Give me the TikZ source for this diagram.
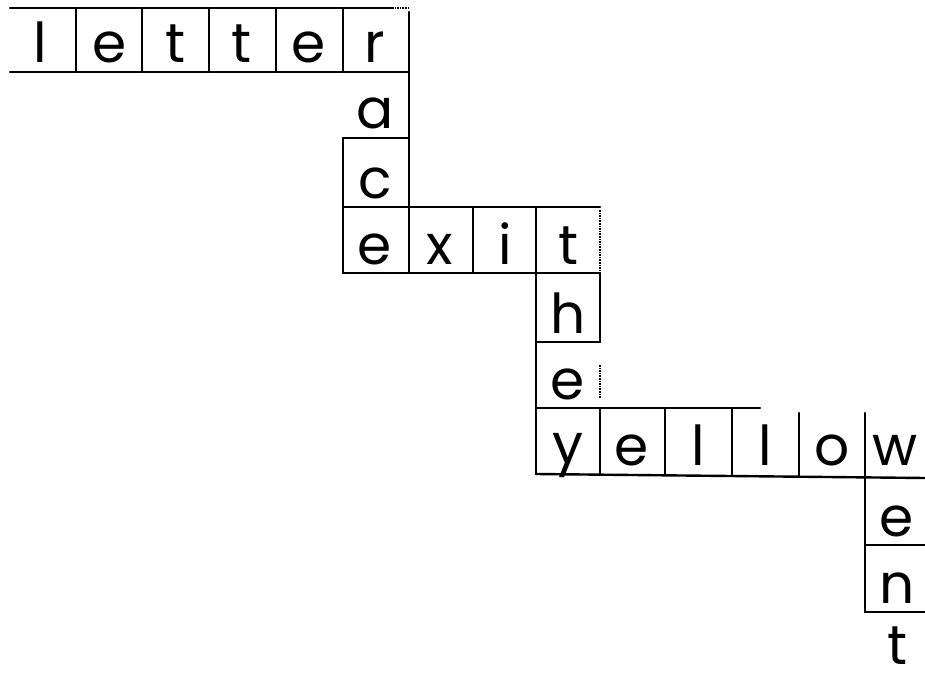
\documentclass[tikz,border=0pt]{standalone}
\usepackage{fontspec}
\setmainfont{Poppins}
\begin{document}
\begin{tikzpicture}[x=1pt,y=-1pt,
  gridline/.style={line width=2.4pt, line cap=round},
  faintline/.style={line width=1.6pt, densely dotted},
  lt/.style={font=\fontsize{55}{55}\selectfont, anchor=base, inner sep=0pt}]
\useasboundingbox (0,0) rectangle (925,679);
% ---- grid lines ----
% "letter" row
\draw[gridline] (10,8) -- (392,8);
\draw[faintline] (392,8) -- (409,8);
\draw[gridline] (10,72) -- (409,72);
\foreach \x in {76,142,209,276,343} \draw[gridline] (\x,8) -- (\x,72);
% right side of column r-a-c-e
\draw[gridline] (409,12) -- (409,273);
% a / c
\draw[gridline] (343,138) -- (409,138);
\draw[gridline] (343,138) -- (343,273);
% "exit" row
\draw[gridline] (343,207) -- (600,207);
\draw[gridline] (343,273) -- (600,273);
\foreach \x in {473,536} \draw[gridline] (\x,207) -- (\x,273);
% column t-h-e-y
\draw[gridline] (536,273) -- (536,474);
\draw[faintline] (600,210) -- (600,270);
\draw[gridline] (600,273) -- (600,342);
\draw[faintline] (600,365) -- (600,398);
\draw[gridline] (536,342) -- (600,342);
% "yellow" row
\draw[gridline] (536,408) -- (760,408);
\draw[gridline] (536,474) -- (925,478);
\foreach \x in {600,665,732} \draw[gridline] (\x,408) -- (\x,475);
\foreach \x in {799} \draw[gridline] (\x,413) -- (\x,476);
% column w-e-n-t
\draw[gridline] (865,413) -- (865,612);
\draw[gridline] (865,545) -- (925,545);
\draw[gridline] (865,612) -- (925,612);
% ---- letters ----
\node[lt] (r1c1) at (40,63) {l};
\node[lt] (r1c2) at (110,63) {e};
\node[lt] (r1c3) at (176,63) {t};
\node[lt] (r1c4) at (242,63) {t};
\node[lt] (r1c5) at (309,63) {e};
\node[lt] (r1c6) at (375,63) {r};
\node[lt] (r2) at (375,129) {a};
\node[lt] (r3) at (375,198) {c};
\node[lt] (r4c1) at (375,264) {e};
\node[lt] (r4c2) at (440,264) {x};
\node[lt] (r4c3) at (505,264) {i};
\node[lt] (r4c4) at (568,264) {t};
\node[lt] (r5) at (568,333) {h};
\node[lt] (r6) at (568,399) {e};
\node[lt] (r7c1) at (568,463) {y};
\node[lt] (r7c2) at (632,465) {e};
\node[lt] (r7c3) at (698,465) {l};
\node[lt] (r7c4) at (765,465) {l};
\node[lt] (r7c5) at (832,465) {o};
\node[lt] (r7c6) at (895,465) {w};
\node[lt] (r8) at (897,536) {e};
\node[lt] (r9) at (897,603) {n};
\node[lt] (r10) at (897,664) {t};
\end{tikzpicture}
\end{document}
